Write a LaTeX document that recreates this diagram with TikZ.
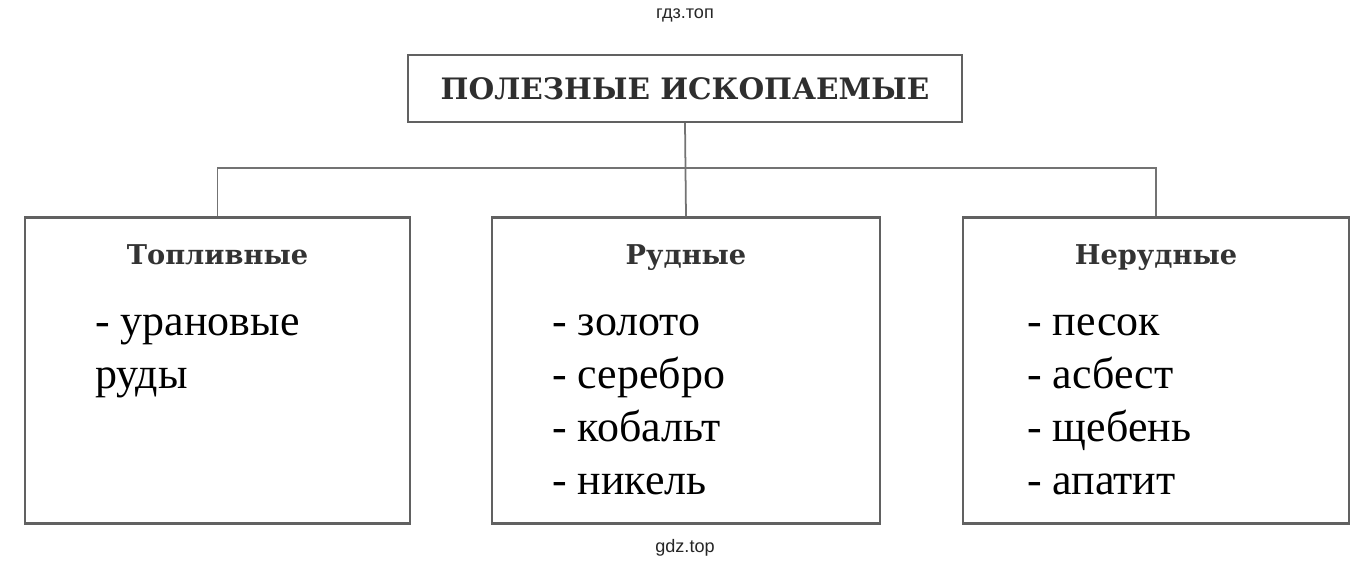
\documentclass[tikz,border=0pt]{standalone}
\usepackage{fontspec}
\setmainfont{Liberation Serif}
\newfontfamily\headfont{DejaVu Serif}
\newfontfamily\markfont{Liberation Sans}

\tikzset{
    groupbox/.style={draw=black!62, line width=1.3pt, minimum height=6.12cm},
    titlebox/.style={draw=black!62, line width=1.3pt, minimum width=11.08cm, minimum height=1.34cm,
        font=\headfont\bfseries\fontsize{16.8}{20}\selectfont, text=black!82},
    grouphead/.style={anchor=base, font=\headfont\bfseries\fontsize{15.5}{18}\selectfont, text=black!80},
    itemlist/.style={anchor=north west, align=left, inner sep=0pt,
        font=\fontsize{25}{30.2}\selectfont},
    watermark/.style={font=\markfont\fontsize{10.3}{12}\selectfont, text=black!85},
    link/.style={draw=black!55, line width=1pt}
}

\begin{document}
\begin{tikzpicture}[x=0.02cm, y=-0.02cm]

        \useasboundingbox (0,0) rectangle (1363,568);

        \node[titlebox] (title) at (685,88.5) {ПОЛЕЗНЫЕ ИСКОПАЕМЫЕ};

        \node[groupbox, minimum width=7.7cm]  (fuel) at (217.5,370.5) {};
        \node[groupbox, minimum width=7.76cm] (ore)  at (686,370.5) {};
        \node[groupbox, minimum width=7.72cm] (nonore) at (1156,370.5) {};

        \coordinate (forkleft) at (217.5,168);
        \coordinate (forkright) at (1156,168);

        \draw[link] (title.south) -- (ore.north);
        \draw[link] (fuel.north) -- (forkleft) -- (forkright) -- (nonore.north);

        \node[grouphead] (fuelhead) at (217.5,264) {Топливные};
        \node[grouphead] (orehead) at (686,264) {Рудные};
        \node[grouphead] (nonorehead) at (1156,264) {Нерудные};

        \node[itemlist] (fuellist) at (95,314) {- урановые\\руды};
        \node[itemlist] (orelist) at (552,314) {- золото\\- серебро\\- кобальт\\- никель};
        \node[itemlist] (nonorelist) at (1027,314) {- песок\\- асбест\\- щебень\\- апатит};

        \node[watermark] (marktop) at (685,15) {гдз.топ};
        \node[watermark] (markbottom) at (685,548) {gdz.top};
    \end{tikzpicture}
\end{document}
